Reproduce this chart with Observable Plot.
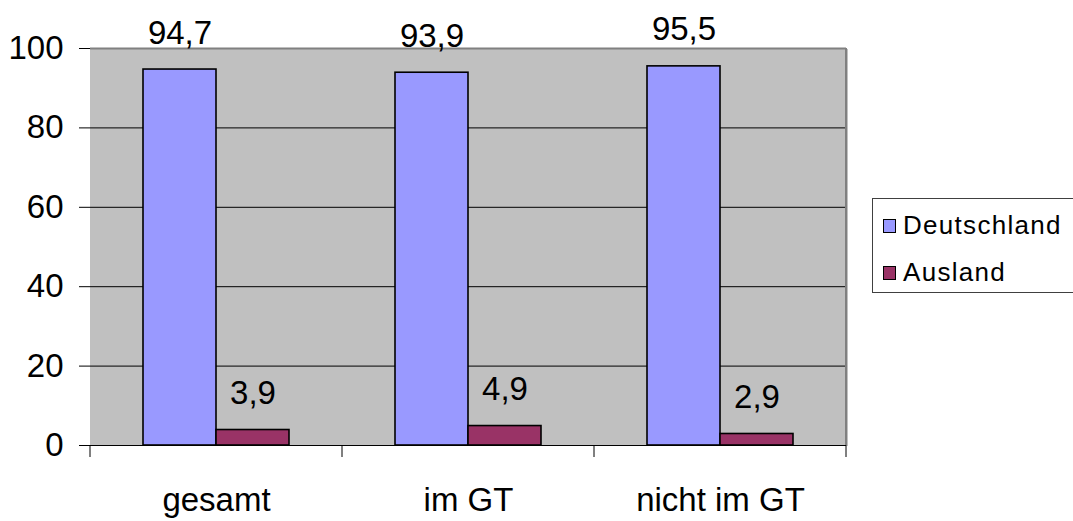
<!DOCTYPE html>
<html>
<head>
<meta charset="utf-8">
<script src="https://cdn.jsdelivr.net/npm/d3@7"></script>
<script src="https://cdn.jsdelivr.net/npm/@observablehq/plot@0.6"></script>
<style>
  html, body { margin: 0; padding: 0; background: #fff; }
  #wrap { position: relative; width: 1073px; height: 521px; overflow: hidden; font-family: "Liberation Sans", Arial, sans-serif; }
  #legend {
    position: absolute; left: 872px; top: 198px; width: 230px; height: 95px;
    border: 1px solid #404040; background: #fff; box-sizing: border-box;
  }
  .item { position: absolute; left: 10px; display: flex; align-items: center; font-size: 26px; letter-spacing: 1.3px; color: #000; }
  .swatch { width: 11px; height: 12px; border: 1.5px solid #000; margin-right: 7px; }
</style>
</head>
<body>
<div id="wrap"></div>
<script>
// Herkunft der Befragten in Prozent
const categories = ["gesamt", "im GT", "nicht im GT"];
const series = ["Deutschland", "Ausland"];
const deutschland = [94.7, 93.9, 95.5];
const ausland = [3.9, 4.9, 2.9];
const yTicks = [0, 20, 40, 60, 80, 100];
const colors = ["#9999FF", "#993366"];

const data = categories.flatMap((c, i) => [
  {category: c, series: series[0], value: deutschland[i]},
  {category: c, series: series[1], value: ausland[i]}
]);

const fmt = v => d3.format(".1f")(v).replace(".", ",");

const chart = Plot.plot({
  width: 1073,
  height: 521,
  marginLeft: 90,
  marginRight: 227,
  marginTop: 48,
  marginBottom: 76,
  style: {fontFamily: "'Liberation Sans', Arial, sans-serif", fontSize: "33px", background: "white", color: "black", overflow: "visible"},
  fx: {domain: categories, padding: 0, label: null, axis: "bottom", tickSize: 0, tickPadding: 42},
  x: {domain: series, paddingInner: 0, paddingOuter: 0.726, axis: null},
  y: {domain: [0, 100], ticks: yTicks, tickSize: 11, tickPadding: 16, label: null, line: true},
  color: {domain: series, range: colors},
  marks: [
    Plot.frame({fill: "#C0C0C0", stroke: null, insetLeft: -1, insetRight: -1, shapeRendering: "crispEdges"}),
    Plot.ruleY(yTicks.filter(t => t > 0 && t < 100), {stroke: "black", strokeWidth: 1}),
    Plot.ruleY([100], {stroke: "#808080", strokeWidth: 2}),
    Plot.barY(data, {fx: "category", x: "series", y: "value", fill: "series", stroke: "black", strokeWidth: 1.6}),
    Plot.text(data, {fx: "category", x: "series", y: "value", text: d => fmt(d.value), lineAnchor: "bottom", dy: -26, fontSize: 33, fill: "black"}),
    Plot.ruleY([0], {stroke: "black", strokeWidth: 1})
  ]
});

// Category boundary ticks below the baseline and the right border of the plot area
const fx = chart.scale("fx");
const y = chart.scale("y");
const svg = d3.select(chart.tagName.toLowerCase() === "svg" ? chart : chart.querySelector("svg"));
const edges = categories.map(c => fx.apply(c)).concat([fx.apply(categories[categories.length - 1]) + fx.bandwidth]);
svg.append("g")
  .selectAll("line")
  .data(edges)
  .join("line")
  .attr("x1", d => d).attr("x2", d => d)
  .attr("y1", y.apply(0)).attr("y2", y.apply(0) + 12)
  .attr("stroke", "black");
const right = edges[edges.length - 1];
svg.append("line")
  .attr("x1", right).attr("x2", right)
  .attr("y1", y.apply(100)).attr("y2", y.apply(0))
  .attr("stroke", "#808080").attr("stroke-width", 2);

const wrap = document.getElementById("wrap");
wrap.appendChild(chart);

// Legend
const legend = document.createElement("div");
legend.id = "legend";
series.forEach((s, i) => {
  const item = document.createElement("div");
  item.className = "item";
  item.style.top = (i === 0 ? 11 : 58) + "px";
  const sw = document.createElement("span");
  sw.className = "swatch";
  sw.style.background = colors[i];
  const label = document.createElement("span");
  label.textContent = s;
  item.appendChild(sw);
  item.appendChild(label);
  legend.appendChild(item);
});
wrap.appendChild(legend);
</script>
</body>
</html>
